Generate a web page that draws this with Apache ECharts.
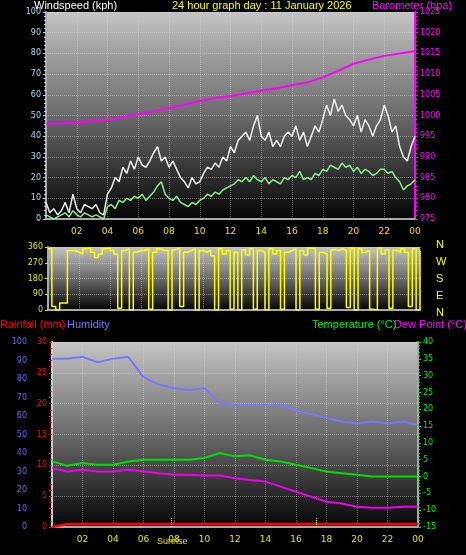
<!DOCTYPE html>
<html>
<head>
<meta charset="utf-8">
<script src="https://cdn.jsdelivr.net/npm/echarts@6/dist/echarts.min.js"></script>
<style>
  html, body { margin: 0; padding: 0; background: #000; }
  #main { width: 466px; height: 555px; }
</style>
</head>
<body>
<div id="main"></div>
<script>
// wind, 15 minute steps (kph)
var gust = [8,3,5,2, 4,8,3,12, 5,3,7,6, 5,7,3,2, 12,15,20,18, 25,22,28,24, 30,26,25,28, 32,35,28,30,
  25,28,24,20, 18,15,20,17, 18,22,25,24, 27,25,30,28, 35,32,38,40, 42,38,45,50, 40,38,42,35, 38,35,40,42,
  40,45,38,42, 35,40,45,42, 48,55,50,58, 52,55,50,48, 45,50,42,48, 45,40,45,48, 55,50,42,45, 35,30,28,35, 40];
var windAvg = [2,1,0,1, 2,3,1,4, 2,1,3,2, 1,2,1,0, 6,7,5,9, 8,10,9,11, 10,12,9,11, 13,16,18,12,
  10,9,11,8, 7,6,8,7, 9,10,12,11, 13,12,14,15, 16,17,19,18, 20,18,21,19, 18,20,17,19, 18,17,20,19,
  21,20,23,19, 20,19,22,21, 24,23,26,25, 24,27,25,26, 23,25,22,24, 23,21,22,24, 24,22,23,20, 18,14,16,17, 19];
// barometer hourly (hPa)
var baro = [998,998.1,998.3,998.7,999,999.6,1000.3,1001,1001.8,1002.6,1003.5,1004.2,1004.7,1005.3,1006,
  1006.6,1007.3,1008,1009.2,1010.8,1012.5,1013.5,1014.4,1015,1015.5];
// wind direction, 15 minute steps (deg)
var direction = [350,20,0,40, 40,340,340,330, 320,350,355,330, 300,320,350,355, 340,320,10,340, 350,0,330,340,
  340,350,5,330, 350,340,340,0, 345,355,20,330, 340,350,0,340, 330,340,310,0, 350,320,340,5, 330,0,345,315,
  350,5,340,330, 0,350,320,340, 5,330,340,350, 0,340,315,355, 350,5,330,320, 10,345,340,350, 340,15,355,0,
  350,330,340,5, 0,355,320,345, 10,340,330,350, 330,20,350,0, 340];
// hourly humidity (%), temperature and dew point (C), rain (mm)
var humidity = [91,91,92,89,91,92,81,77,75,74,75,67,66,66,66,66,63,61,59,57,56,57,56,57,55];
var temperature = [4.5,3.2,4,3.5,3.5,4.5,5,5,5,5,5.5,7,6,6.3,5,4.5,3.5,2.5,1.5,1,0.5,0,0,0,0];
var dewPoint = [2.5,1.5,2,1.5,1.5,2,1.5,1,0.5,0.5,0.3,0.3,-0.5,-1,-1.5,-3,-4.5,-6,-7.5,-8,-9,-9.3,-9.3,-9,-9];
var rain = [0,0.5,0.5,0.5,0.5,0.5,0.5,0.5,0.5,0.5,0.5,0.5,0.5,0.5,0.5,0.5,0.5,0.5,0.5,0.5,0.5,0.5,0.5,0.5,0.5];
var hourTicks = ['02','04','06','08','10','12','14','16','18','20','22','00'];
var sunrise = 7.8, sunset = 17.3;

function pts(arr, step) { return arr.map(function (v, i) { return [i * step, v]; }); }

var bg = new echarts.graphic.LinearGradient(0, 0, 0, 1, [
  { offset: 0, color: '#c4c4c4' }, { offset: 0.5, color: '#6a6a6a' }, { offset: 1, color: '#050505' }]);
var dotted = { show: true, lineStyle: { color: 'rgba(220,220,220,0.45)', type: 'dotted' } };
var font = 'Liberation Sans';
var tickFont = 'DejaVu Sans';

function xAxis(gi, showLabel) {
  return {
    type: 'value', gridIndex: gi, min: 0, max: 24, interval: 2,
    axisLine: { lineStyle: { color: '#aaa', width: 2 } },
    axisTick: { show: false },
    splitLine: dotted,
    axisLabel: {
      show: showLabel, color: '#e6e600', fontSize: 9, fontFamily: tickFont,
      formatter: function (v) { return v === 0 ? '' : hourTicks[v / 2 - 1]; }
    }
  };
}
function yAxis(gi, o) {
  var col = o.color;
  return Object.assign({
    type: 'value', gridIndex: gi, position: 'left',
    axisLine: { show: true, lineStyle: { color: o.line || col, width: 2 } },
    axisTick: { show: true, length: 3, lineStyle: { color: col } },
    minorTick: { show: true, splitNumber: 5, length: 2, lineStyle: { color: col } },
    splitLine: o.split ? dotted : { show: false },
    axisLabel: { color: col, fontSize: 8, fontFamily: tickFont, margin: 5, formatter: function (v) { return String(v); } }
  }, o.extra);
}

var chart = echarts.init(document.getElementById('main'));
chart.setOption({
  backgroundColor: '#000',
  animation: false,
  graphic: [
    { type: 'text', left: 34, top: 0, style: { text: 'Windspeed (kph)', fill: '#fff', fontSize: 11, fontFamily: font } },
    { type: 'text', left: 172, top: 0, style: { text: '24 hour graph day : 11 January 2026', fill: '#ffff00', fontSize: 11, fontFamily: font } },
    { type: 'text', left: 372, top: 0, style: { text: 'Barometer (hpa)', fill: '#ff00ff', fontSize: 11, fontFamily: font } },
    { type: 'text', left: 436, top: 239, style: { text: 'N\n\nW\n\nS\n\nE\n\nN', fill: '#ffff00', fontSize: 11, lineHeight: 8.6, fontFamily: font } },
    { type: 'text', left: 0, top: 319, style: { text: 'Rainfall (mm)', fill: '#ff0000', fontSize: 11, fontFamily: font } },
    { type: 'text', left: 67, top: 319, style: { text: 'Humidity', fill: '#7777ff', fontSize: 11, fontFamily: font } },
    { type: 'text', left: 312, top: 319, style: { text: 'Temperature (°C)', fill: '#00ee00', fontSize: 11, fontFamily: font } },
    { type: 'text', left: 394, top: 319, style: { text: 'Dew Point (°C)', fill: '#ff00ff', fontSize: 11, fontFamily: font } },
    { type: 'text', left: 157, top: 537, style: { text: 'Sunrise', fill: '#e6e600', fontSize: 9, fontFamily: font } }
  ],
  grid: [
    { left: 46, right: 51, top: 12, height: 207, show: true, backgroundColor: bg, borderWidth: 0 },
    { left: 48, right: 46, top: 247, height: 63, show: true, backgroundColor: bg, borderWidth: 0 },
    { left: 52, right: 48, top: 342, height: 185, show: true, backgroundColor: bg, borderWidth: 0 }
  ],
  xAxis: [xAxis(0, true), xAxis(1, false), xAxis(2, true)],
  yAxis: [
    yAxis(0, { color: '#aaddff', line: '#aaa', split: true, extra: { min: 0, max: 100, interval: 10 } }),
    yAxis(0, { color: '#ff00ff', extra: { position: 'right', min: 975, max: 1025, interval: 5 } }),
    yAxis(1, { color: '#e6e600', line: '#aaa', split: true, extra: { min: 0, max: 360, interval: 90, minorTick: { show: false } } }),
    yAxis(2, { color: '#6666ff', extra: { min: 0, max: 100, interval: 10, offset: 20, minorTick: { show: false } } }),
    yAxis(2, { color: '#ff0000', line: '#ccc', split: true, extra: { min: 0, max: 30, interval: 5 } }),
    yAxis(2, { color: '#00ee00', line: '#aaa', extra: { position: 'right', min: -15, max: 40, interval: 5 } })
  ],
  series: [
    { type: 'line', xAxisIndex: 0, yAxisIndex: 1, data: pts(baro, 1), symbol: 'none', lineStyle: { color: '#ff00ff', width: 2 } },
    { type: 'line', xAxisIndex: 0, yAxisIndex: 0, data: pts(gust, 0.25), symbol: 'none', lineStyle: { color: '#eeeeee', width: 1.5 } },
    { type: 'line', xAxisIndex: 0, yAxisIndex: 0, data: pts(windAvg, 0.25), symbol: 'none', lineStyle: { color: '#88ee88', width: 1.5 } },
    { type: 'line', xAxisIndex: 1, yAxisIndex: 2, data: pts(direction, 0.25), symbol: 'none', step: 'end', lineStyle: { color: '#ffff00', width: 1.5 } },
    { type: 'line', xAxisIndex: 2, yAxisIndex: 3, data: pts(humidity, 1), symbol: 'none', lineStyle: { color: '#7777ff', width: 2 } },
    { type: 'line', xAxisIndex: 2, yAxisIndex: 4, data: pts(rain, 1), symbol: 'none', lineStyle: { color: '#ff0000', width: 2.5 } },
    { type: 'line', xAxisIndex: 2, yAxisIndex: 5, data: pts(temperature, 1), symbol: 'none', lineStyle: { color: '#00dd00', width: 2 },
      markLine: { symbol: 'none', silent: true, label: { show: false },
        lineStyle: { color: '#ffff00', type: 'dotted', width: 1 },
        data: [[{ coord: [sunrise, -15] }, { coord: [sunrise, -12] }], [{ coord: [sunset, -15] }, { coord: [sunset, -12] }]] } },
    { type: 'line', xAxisIndex: 2, yAxisIndex: 5, data: pts(dewPoint, 1), symbol: 'none', lineStyle: { color: '#ee00ee', width: 2 } }
  ]
});
</script>
</body>
</html>
